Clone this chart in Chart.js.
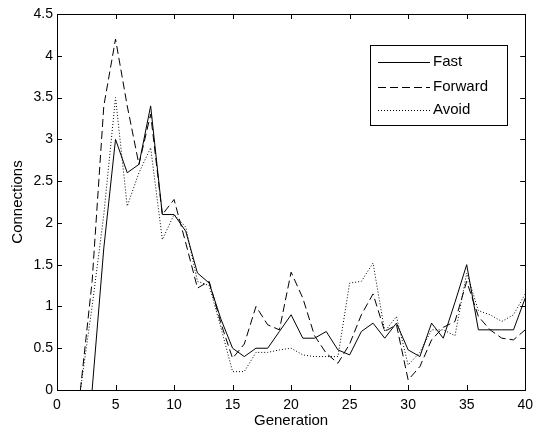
<!DOCTYPE html>
<html>
<head>
<meta charset="utf-8">
<script src="https://cdn.jsdelivr.net/npm/chart.js@4.4.0/dist/chart.umd.min.js"></script>
<style>
  html, body { margin: 0; padding: 0; background: #fff; }
  #wrap { width: 540px; height: 433px; position: relative; }
</style>
</head>
<body>
<div id="wrap"><canvas id="chart"></canvas></div>
<script>
// === DATA ===
const generations = [1,2,3,4,5,6,7,8,9,10,11,12,13,14,15,16,17,18,19,20,
                     21,22,23,24,25,26,27,28,29,30,31,32,33,34,35,36,37,38,39,40];

const fast = [null,null,0,1.7,3.0,2.6,2.7,3.4,2.1,2.1,1.9,1.4,1.28,0.85,0.5,0.4,0.5,0.5,0.7,0.9,
              0.62,0.62,0.7,0.48,0.42,0.7,0.8,0.62,0.8,0.48,0.4,0.8,0.62,1.05,1.5,0.72,0.72,0.72,0.72,1.1];

const forward = [null,0,1.3,3.4,4.2,3.4,2.7,3.3,2.1,2.28,1.76,1.22,1.3,0.8,0.38,0.55,1.0,0.78,0.72,1.41,
                 1.1,0.65,0.44,0.32,0.55,0.9,1.15,0.7,0.78,0.12,0.28,0.6,0.75,0.82,1.3,0.88,0.72,0.62,0.6,0.72];

const avoid = [null,0,1.0,2.1,3.5,2.2,2.6,2.9,1.8,2.1,1.95,1.3,1.25,0.75,0.22,0.22,0.45,0.45,0.48,0.5,
               0.42,0.4,0.4,0.4,1.28,1.3,1.52,0.7,0.88,0.3,0.45,0.72,0.72,0.65,1.4,0.95,0.9,0.82,0.9,1.15];

const seriesNames = ['Fast', 'Forward', 'Avoid'];
const xTicks = [0,5,10,15,20,25,30,35,40];
const yTicks = [0,0.5,1,1.5,2,2.5,3,3.5,4,4.5];

const FONT = '"Liberation Sans", Arial, sans-serif';

const toPoints = (ys) => generations.map((g, i) => ({ x: g, y: ys[i] }));

// === BOX + INWARD TICKS (matlab style) ===
const boxPlugin = {
  id: 'box',
  afterDraw(chart) {
    const { ctx, chartArea: a, scales } = chart;
    const len = 5;
    ctx.save();
    ctx.strokeStyle = '#000';
    ctx.lineWidth = 1;
    ctx.strokeRect(Math.round(a.left) + 0.5, Math.round(a.top) + 0.5,
                   Math.round(a.right - a.left), Math.round(a.bottom - a.top));
    ctx.beginPath();
    xTicks.forEach(v => {
      const x = Math.round(scales.x.getPixelForValue(v)) + 0.5;
      ctx.moveTo(x, a.bottom); ctx.lineTo(x, a.bottom - len);
      ctx.moveTo(x, a.top); ctx.lineTo(x, a.top + len);
    });
    yTicks.forEach(v => {
      const y = Math.round(scales.y.getPixelForValue(v)) + 0.5;
      ctx.moveTo(a.left, y); ctx.lineTo(a.left + len, y);
      ctx.moveTo(a.right, y); ctx.lineTo(a.right - len, y);
    });
    ctx.stroke();
    ctx.restore();
  }
};

// === LEGEND BOX INSIDE THE PLOT ===
const legendPlugin = {
  id: 'boxLegend',
  afterDraw(chart) {
    const ctx = chart.ctx;
    const bx = 370, by = 45, bw = 137, bh = 80;
    const rows = [62, 87, 110];
    ctx.save();
    ctx.fillStyle = '#fff';
    ctx.fillRect(bx, by, bw, bh);
    ctx.strokeStyle = '#000';
    ctx.lineWidth = 1;
    ctx.strokeRect(bx + 0.5, by + 0.5, bw, bh);
    chart.data.datasets.forEach((ds, i) => {
      const y = rows[i] + 0.5;
      ctx.setLineDash(ds.borderDash || []);
      ctx.strokeStyle = ds.borderColor;
      ctx.beginPath();
      ctx.moveTo(378, y);
      ctx.lineTo(430, y);
      ctx.stroke();
      ctx.setLineDash([]);
      ctx.fillStyle = '#000';
      ctx.font = '15px ' + FONT;
      ctx.textBaseline = 'middle';
      ctx.textAlign = 'left';
      ctx.fillText(ds.label, 433, rows[i]);
    });
    ctx.restore();
  }
};

const lineStyles = [[], [8, 4], [1, 2]];

new Chart(document.getElementById('chart'), {
  type: 'line',
  data: {
    datasets: [fast, forward, avoid].map((vals, i) => ({
      label: seriesNames[i],
      data: toPoints(vals),
      borderColor: '#000',
      borderWidth: 1,
      borderDash: lineStyles[i],
      pointRadius: 0,
      tension: 0,
      fill: false,
      spanGaps: false
    }))
  },
  options: {
    responsive: true,
    maintainAspectRatio: false,
    animation: false,
    layout: { padding: { top: 14, right: 9, left: 0, bottom: 0 } },
    plugins: { legend: { display: false }, tooltip: { enabled: false } },
    scales: {
      x: {
        type: 'linear', min: 0, max: 40,
        afterBuildTicks: (s) => { s.ticks = xTicks.map(v => ({ value: v })); },
        afterFit: (s) => { s.height = 43; },
        grid: { display: false, drawTicks: false },
        border: { display: false },
        ticks: { color: '#000', padding: 7, maxRotation: 0,
                 callback: (v) => String(v), font: { family: FONT, size: 14 } },
        title: { display: true, text: 'Generation', color: '#000',
                 padding: { top: 0, bottom: 3 }, font: { family: FONT, size: 15 } }
      },
      y: {
        type: 'linear', min: 0, max: 4.5,
        afterBuildTicks: (s) => { s.ticks = yTicks.map(v => ({ value: v })); },
        afterFit: (s) => { s.width = 57; },
        grid: { display: false, drawTicks: false },
        border: { display: false },
        ticks: { color: '#000', padding: 4,
                 callback: (v) => String(v), font: { family: FONT, size: 14 } },
        title: { display: true, text: 'Connections', color: '#000',
                 padding: { top: 9, bottom: 0 }, font: { family: FONT, size: 15 } }
      }
    }
  },
  plugins: [boxPlugin, legendPlugin]
});
</script>
</body>
</html>
